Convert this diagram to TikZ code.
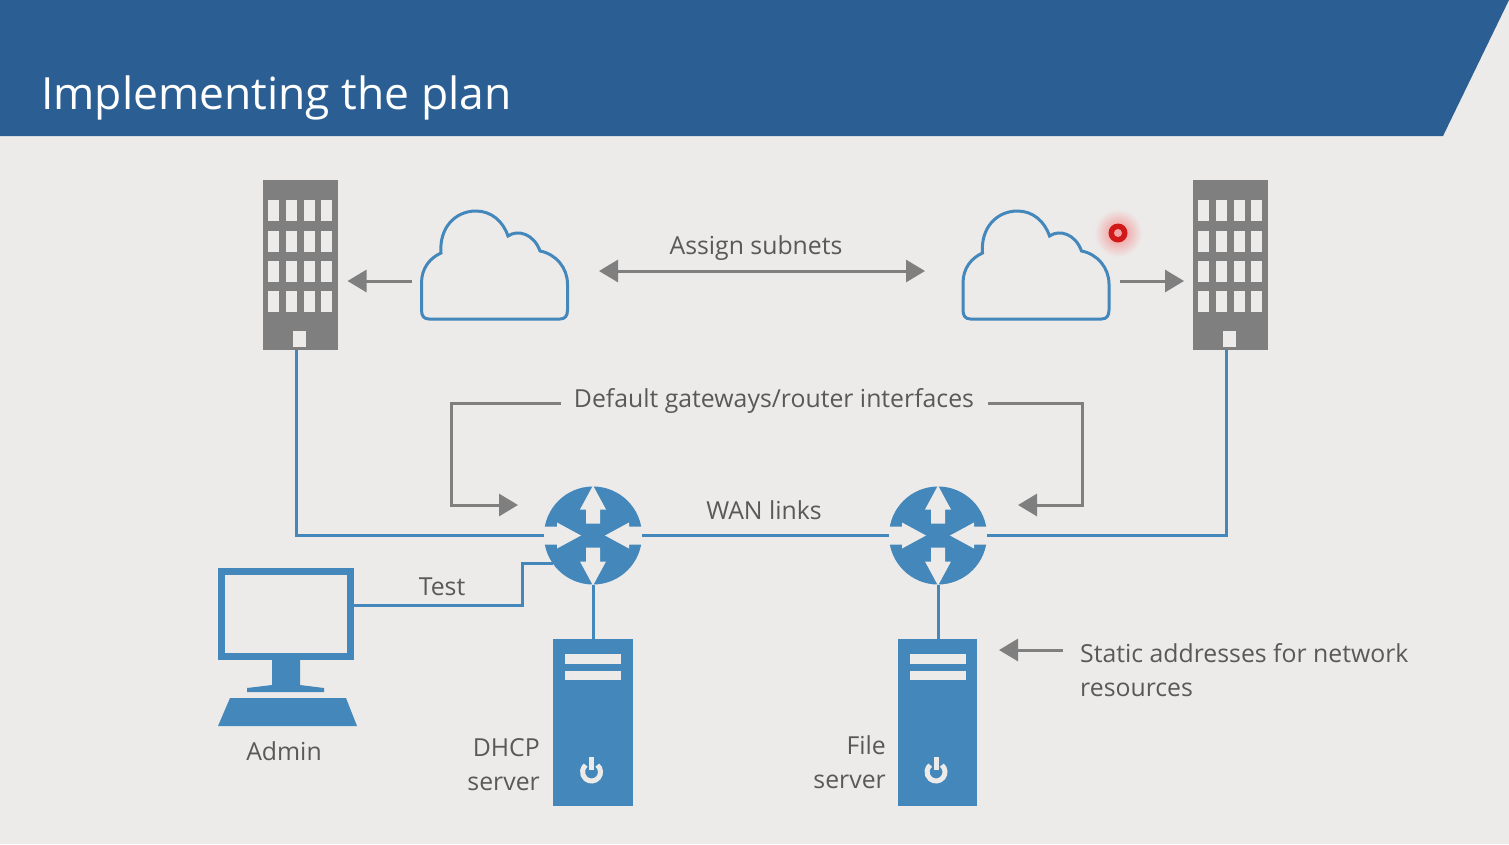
\documentclass[tikz,border=0pt]{standalone}
\usepackage{fontspec}
\setmainfont{Open Sans}
\usetikzlibrary{arrows.meta,calc}
\definecolor{fondito}{RGB}{236,235,234}
\definecolor{azulcito}{RGB}{43,95,147}
\definecolor{celestito}{RGB}{68,135,186}
\definecolor{grisito}{RGB}{127,127,127}
\definecolor{textito}{RGB}{89,89,89}
\tikzset{>={Triangle[length=19pt,width=22pt]}}
\tikzset{
	link/.style={line width=3pt, celestito},
	note/.style={->, line width=3pt, grisito},
	caption/.style={inner sep=0pt, textito, font=\fontsize{24.8}{34}\selectfont, align=center},
	towerbox/.style={fill=grisito, minimum width=75pt, minimum height=170pt, inner sep=0pt},
	serverbox/.style={fill=celestito, minimum width=79.5pt, minimum height=167pt, inner sep=0pt},
	routerbox/.style={circle, fill=celestito, minimum size=98pt, inner sep=0pt},
	screenbox/.style={draw=celestito, line width=7pt, minimum width=129pt, minimum height=85pt, inner sep=0pt},
}
\newcommand{\towerparts}[1]{
	\foreach \wx in {-32.5,-14.5,3.5,20.5}
		\foreach \wy in {-65,-34,-4,26}
			\fill[fondito] ($(#1)+(\wx,\wy)$) rectangle +(11,21);
	\fill[fondito] ($(#1)+(-7.5,66)$) rectangle +(13,16);
}
\newcommand{\serverparts}[1]{
	\fill[fondito] ($(#1)+(-28,-68.5)$) rectangle +(56,10);
	\fill[fondito] ($(#1)+(-28,-51.5)$) rectangle +(56,9);
	\draw[fondito, line width=5pt] ($(#1)+(4.3,42.6)$) arc[start angle=-50, end angle=230, radius=9];
	\draw[fondito, line width=5pt] ($(#1)+(-1.5,34.5)$) -- +(0,13);
}
\newcommand{\routerparts}[1]{
	\fill[fondito] ($(#1)+(0,-50)$) -- +(13,24) -- +(7,24) -- +(7,38) -- +(-7,38) -- +(-7,24) -- +(-13,24) -- cycle;
	\fill[fondito] ($(#1)+(0,50)$) -- +(13,-24) -- +(7,-24) -- +(7,-38) -- +(-7,-38) -- +(-7,-24) -- +(-13,-24) -- cycle;
	\fill[fondito] ($(#1)+(-12,0)$) -- +(-24,13) -- +(-24,9) -- +(-39,9) -- +(-39,-9) -- +(-24,-9) -- +(-24,-13) -- cycle;
	\fill[fondito] ($(#1)+(12,0)$) -- +(24,13) -- +(24,9) -- +(39,9) -- +(39,-9) -- +(24,-9) -- +(24,-13) -- cycle;
}
\newcommand{\cloudline}[1]{
	\draw[link, shift={(#1,0)}] (421.5,306) -- (421.5,283)
		.. controls (421.5,268) and (430,258) .. (441,253)
		.. controls (439,228) and (455,211) .. (476,211)
		.. controls (491,211) and (503,221) .. (508,236)
		.. controls (518,229) and (534,234) .. (540,251)
		.. controls (556,254) and (567.5,268) .. (567.5,284)
		-- (567.5,310) .. controls (567.5,316) and (565,319) .. (560,319)
		-- (429,319) .. controls (424,319) and (421.5,316) .. (421.5,310) -- cycle;
}

\begin{document}
\begin{tikzpicture}[x=1pt, y=-1pt]
	\useasboundingbox (0,0) rectangle (1509,844);
	\fill[fondito] (0,0) rectangle (1509,844);
	\fill[azulcito] (0,0) -- (1509,0) -- (1443,136) -- (0,136) -- cycle;
	\node[anchor=base west, inner sep=0pt, white, font=\fontsize{44.4}{54}\selectfont] (title) at (41,109) {Implementing the plan};

	% buildings
	\node[towerbox] (towerL) at (300.5,265) {};
	\node[towerbox] (towerR) at (1230.5,265) {};
	\towerparts{towerL}
	\towerparts{towerR}

	% clouds
	\cloudline{0}
	\cloudline{541.5}
	\coordinate (cloudL) at (412,281);
	\coordinate (cloudR) at (1120,281);
	\coordinate (towerLin) at (347.5,281);
	\coordinate (towerRin) at (1184,281);
	\draw[note] (cloudL) -- (towerLin);
	\draw[note] (cloudR) -- (towerRin);

	\node[caption] (subnets) at (756,248.5) {Assign subnets};
	\coordinate (subnetsL) at (599,271);
	\coordinate (subnetsR) at (925,271);
	\draw[note, <->] (subnetsL) -- (subnetsR);

	% red pointer
	\shade[inner color=red!40!fondito, outer color=fondito, draw=none] (1118,233) circle (24);
	\fill[red!80!black!90] (1118,233) circle (9.5);
	\fill[red!30!fondito] (1118,233) circle (4);

	% routers
	\node[routerbox] (routerL) at (593,535.5) {};
	\node[routerbox] (routerR) at (938,535.5) {};
	\routerparts{routerL}
	\routerparts{routerR}

	% servers
	\node[serverbox] (serverL) at (593,722.5) {};
	\node[serverbox] (serverR) at (937.5,722.5) {};
	\serverparts{serverL}
	\serverparts{serverR}

	% admin
	\node[screenbox] (screen) at (286,614) {};
	\fill[celestito] (272,660) -- (300,660) -- (300,685) -- (324,688) -- (324,692) -- (247,692) -- (247,688) -- (272,685) -- cycle;
	\fill[celestito] (230,698) -- (346,698) -- (357,726) -- (218,726) -- cycle;

	% links
	\coordinate (towerLout) at (296.5,350);
	\coordinate (towerRout) at (1226.5,350);
	\draw[link] (towerLout) |- (routerL.west);
	\draw[link] (towerRout) |- (routerR.east);
	\draw[link] (routerL.east) -- (routerR.west);
	\draw[link] (routerL.south) -- (serverL.north);
	\draw[link] (routerR.south) -- (routerR.south |- serverR.north);
	\coordinate (routerLtest) at (553,563);
	\draw[link] (screen.east |- 0,605) -- (522,605) -- (522,563) -- (routerLtest);

	% gateways
	\node[caption] (gateways) at (774,400.5) {Default gateways/router interfaces};
	\coordinate (gwL) at (518,505);
	\coordinate (gwR) at (1018,505);
	\draw[note] (561,403) -- (451.5,403) -- (451.5,505) -- (gwL);
	\draw[note] (988,403) -- (1082,403) -- (1082,505) -- (gwR);

	\node[caption] (wan) at (764,510) {WAN links};
	\node[caption] (test) at (442,587) {Test};
	\node[caption] (admin) at (284,751) {Admin};
	\node[caption, anchor=east, align=right] (dhcp) at (540,765) {DHCP\\server};
	\node[caption, anchor=east, align=right] (file) at (886,762) {File\\server};

	% static addresses
	\node[caption, anchor=west, align=left] (static) at (1080,670) {Static addresses for network\\resources};
	\coordinate (staticfrom) at (1063,650);
	\coordinate (staticto) at (999,650);
	\draw[note] (staticfrom) -- (staticto);
\end{tikzpicture}
\end{document}
